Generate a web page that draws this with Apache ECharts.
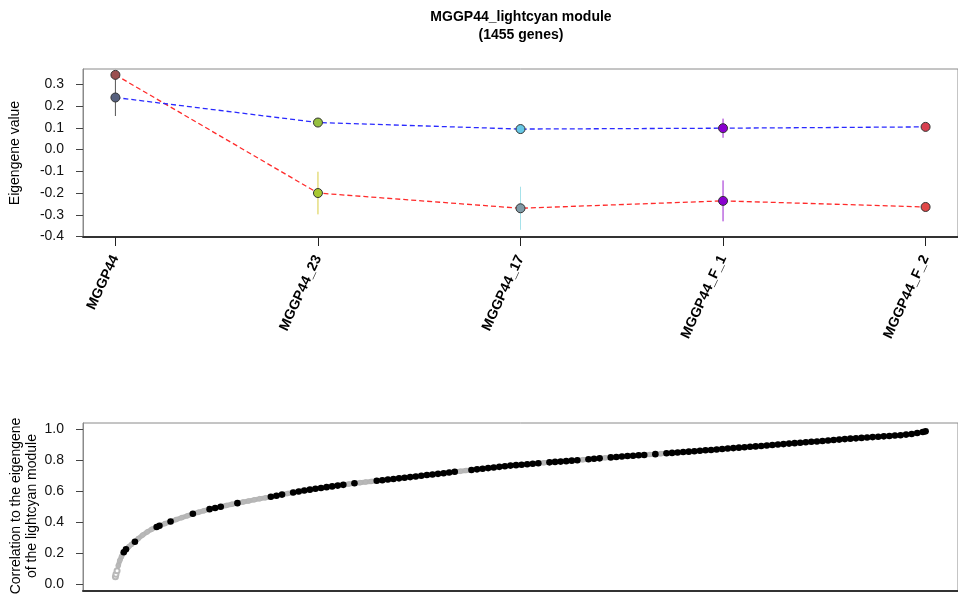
<!DOCTYPE html>
<html><head><meta charset="utf-8">
<script src="https://cdn.jsdelivr.net/npm/echarts@6/dist/echarts.min.js"></script>
<style>html,body{margin:0;padding:0;background:#fff}#c{width:958px;height:604px}</style>
</head><body><div id="c"></div>
<script>
// ---- data ----
const samples = ['MGGP44', 'MGGP44_23', 'MGGP44_17', 'MGGP44_F_1', 'MGGP44_F_2'];
const redVals = [0.343, -0.200, -0.270, -0.236, -0.264];
const redErr  = [0.010, 0.098, 0.099, 0.094, 0.015];
const blueVals = [0.239, 0.124, 0.094, 0.098, 0.104];
const blueErr  = [0.085, 0.008, 0.008, 0.044, 0.008];
const yTicksTop = [-0.4, -0.3, -0.2, -0.1, 0.0, 0.1, 0.2, 0.3];
const yTicksBottom = [0.0, 0.2, 0.4, 0.6, 0.8, 1.0];

const geneRank = [
1,2,4,6,9,12,16,20,25,30,36,42,50,58,66,75,
80,90,100,110,120,130,140,150,160,170,
180,190,200,210,220,230,240,250,260,270,
280,290,300,310,320,330,340,350,360,370,
380,390,400,410,420,430,440,450,460,470,
480,490,500,510,520,530,540,550,560,570,
580,590,600,610,620,630,640,650,660,670,
680,690,700,710,720,730,740,750,760,770,
780,790,800,810,820,830,840,850,860,870,
880,890,900,910,920,930,940,950,960,970,
980,990,1000,1010,1020,1030,1040,1050,1060,1070,
1080,1090,1100,1110,1120,1130,1140,1150,1160,1170,
1180,1190,1200,1210,1220,1230,1240,1250,1260,1270,
1280,1290,1300,1310,1320,1330,1340,1350,1360,1370,
1380,1390,1400,1410,1420,1430,1440,1450,1455];
const geneCorr = [
0.049,0.065,0.088,0.120,0.155,0.180,0.207,0.226,0.243,0.258,0.275,0.295,0.318,0.338,0.355,0.370,
0.378,0.392,0.405,0.418,0.430,0.442,0.455,0.465,0.475,0.485,
0.493,0.501,0.509,0.517,0.524,0.531,0.538,0.545,0.552,0.558,
0.565,0.572,0.579,0.586,0.593,0.599,0.605,0.611,0.617,0.622,
0.627,0.632,0.637,0.642,0.647,0.652,0.656,0.660,0.664,0.668,
0.672,0.676,0.680,0.684,0.688,0.692,0.696,0.701,0.705,0.709,
0.713,0.717,0.722,0.726,0.730,0.734,0.738,0.742,0.746,0.750,
0.754,0.758,0.762,0.766,0.769,0.772,0.775,0.778,0.781,0.784,
0.787,0.790,0.792,0.795,0.798,0.801,0.804,0.807,0.810,0.813,
0.816,0.819,0.822,0.825,0.828,0.830,0.833,0.835,0.838,0.840,
0.843,0.846,0.848,0.851,0.854,0.856,0.859,0.862,0.865,0.867,
0.870,0.873,0.876,0.879,0.882,0.885,0.888,0.890,0.893,0.896,
0.899,0.902,0.905,0.908,0.911,0.914,0.917,0.920,0.922,0.925,
0.928,0.931,0.934,0.937,0.940,0.942,0.945,0.947,0.950,0.952,
0.955,0.957,0.960,0.962,0.966,0.970,0.976,0.983,0.987];
// rank ranges of genes drawn in black
const blackRanges = [[17,22],[36,36],[70,82],[93,100],[137,143],[171,178],[185,194],[206,206],[215,221],
[274,306],[315,350],[359,368],[376,392],[401,415],[424,430],[463,472],[477,548],[554,575],[580,615],
[637,649],[651,669],[672,690],[693,760],[782,826],[832,837],[849,876],[885,906],[911,952],[964,977],
[986,1039],[1048,1103],[1105,1165],[1171,1455]];

// ---- styles ----
const FONT = "'Liberation Sans', Arial, Helvetica, sans-serif";
const redPointColors = ['#9a5050', '#a8c830', '#7f9aa6', '#8a00d0', '#e04848'];
const bluePointColors = ['#56607e', '#96c040', '#66c8e6', '#8a00d0', '#d84050'];
const barColors = ['#555555', '#d8cc40', '#a6e2ea', '#9a20d0', '#e04848'];

const xPos = samples.map((s, i) => i + 1);

function isBlack(r) {
  return blackRanges.some(([a, b]) => b >= r - 2 && a <= r + 2);
}
const allPts = geneRank.map((r, i) => [r, geneCorr[i]]);
const blackPts = allPts.filter(p => isBlack(p[0]));

function errSeries(vals, errs) {
  return {
    type: 'custom', xAxisIndex: 0, yAxisIndex: 0,
    data: xPos.map((x, i) => [x, vals[i], errs[i]]),
    renderItem: function (params, api) {
      const x = api.value(0), v = api.value(1), e = api.value(2);
      const p1 = api.coord([x, v - e]), p2 = api.coord([x, v + e]);
      return { type: 'line', shape: { x1: p1[0], y1: p1[1], x2: p2[0], y2: p2[1] },
        style: { stroke: barColors[params.dataIndex], lineWidth: 1 } };
    },
    z: 3
  };
}

const chart = echarts.init(document.getElementById('c'), null, { renderer: 'canvas' });
const axisLabelBase = { fontFamily: FONT, fontSize: 14, color: '#111' };
const txt = (text, x, y, font, rot) => ({ type: 'text', x: x, y: y, rotation: rot || 0,
  style: { text: text, align: 'center', verticalAlign: 'middle', textAlign: 'center', textVerticalAlign: 'middle', font: font, fill: '#000' } });
const option = {
  animation: false,
  backgroundColor: '#ffffff',
  graphic: [
    txt('MGGP44_lightcyan module', 521, 17, 'bold 14px ' + FONT),
    txt('(1455 genes)', 521, 35, 'bold 14px ' + FONT),
    txt('Eigengene value', 15, 153, '14px ' + FONT, Math.PI / 2),
    txt('Correlation to the eigengene', 16, 506, '14px ' + FONT, Math.PI / 2),
    txt('of the lightcyan module', 32, 506, '14px ' + FONT, Math.PI / 2)
  ],
  grid: [
    { left: 83, top: 69, right: -12, height: 168, show: true, borderColor: '#8a8a8a', borderWidth: 1, backgroundColor: 'transparent' },
    { left: 83, top: 423, right: -12, height: 168, show: true, borderColor: '#8a8a8a', borderWidth: 1, backgroundColor: 'transparent' }
  ],
  xAxis: [
    { type: 'value', gridIndex: 0, min: 0.84, max: 5.16,
      axisLine: { show: true, onZero: false, lineStyle: { color: '#333', width: 2 } },
      axisTick: { show: true, customValues: xPos, length: 9, lineStyle: { color: '#222', width: 1 } },
      axisLabel: { show: true, customValues: xPos, formatter: v => samples[Math.round(v) - 1], rotate: 65,
        margin: 19, fontFamily: FONT, fontSize: 14, fontWeight: 'bold', color: '#000' },
      splitLine: { show: false } },
    { type: 'value', gridIndex: 1, min: -57.16, max: 1513.16,
      axisLine: { show: true, onZero: false, lineStyle: { color: '#333', width: 2 } },
      axisTick: { show: false }, axisLabel: { show: false }, splitLine: { show: false } }
  ],
  yAxis: [
    { type: 'value', gridIndex: 0, min: -0.402, max: 0.370,
      axisLine: { show: true, onZero: false, lineStyle: { color: '#8a8a8a', width: 1 } },
      axisTick: { show: true, customValues: yTicksTop, length: 7, lineStyle: { color: '#444' } },
      axisLabel: Object.assign({ customValues: yTicksTop, margin: 19, formatter: v => v.toFixed(1) }, axisLabelBase),
      splitLine: { show: false } },
    { type: 'value', gridIndex: 1, min: -0.043, max: 1.041,
      axisLine: { show: true, onZero: false, lineStyle: { color: '#8a8a8a', width: 1 } },
      axisTick: { show: true, customValues: yTicksBottom, length: 7, lineStyle: { color: '#444' } },
      axisLabel: Object.assign({ customValues: yTicksBottom, margin: 19, formatter: v => v.toFixed(1) }, axisLabelBase),
      splitLine: { show: false } }
  ],
  series: [
    { type: 'line', xAxisIndex: 0, yAxisIndex: 0, data: xPos.map((x, i) => [x, redVals[i]]), symbol: 'none',
      lineStyle: { color: '#ff2a2a', width: 1.3, type: [5, 3] }, z: 2 },
    { type: 'line', xAxisIndex: 0, yAxisIndex: 0, data: xPos.map((x, i) => [x, blueVals[i]]), symbol: 'none',
      lineStyle: { color: '#2a2aff', width: 1.3, type: [5, 3] }, z: 2 },
    errSeries(redVals, redErr),
    errSeries(blueVals, blueErr),
    { type: 'scatter', xAxisIndex: 0, yAxisIndex: 0, data: xPos.map((x, i) => [x, redVals[i]]), symbolSize: 9,
      itemStyle: { color: p => redPointColors[p.dataIndex], borderColor: '#333', borderWidth: 1, opacity: 1 }, z: 4 },
    { type: 'scatter', xAxisIndex: 0, yAxisIndex: 0, data: xPos.map((x, i) => [x, blueVals[i]]), symbolSize: 9,
      itemStyle: { color: p => bluePointColors[p.dataIndex], borderColor: '#333', borderWidth: 1, opacity: 1 }, z: 4 },
    { type: 'line', xAxisIndex: 1, yAxisIndex: 1, data: allPts.filter(p => p[0] >= 6), symbol: 'none',
      lineStyle: { color: '#b8b8b8', width: 5 }, z: 1 },
    { type: 'scatter', xAxisIndex: 1, yAxisIndex: 1, data: allPts, symbolSize: 5,
      symbol: (v) => v[0] < 6 ? 'emptyCircle' : 'circle',
      itemStyle: { color: '#b8b8b8', borderColor: '#b0b0b0', borderWidth: 0.5, opacity: 1 }, z: 2 },
    { type: 'scatter', xAxisIndex: 1, yAxisIndex: 1, data: blackPts, symbolSize: 6.6,
      itemStyle: { color: '#000', opacity: 1 }, z: 3 }
  ]
};
chart.setOption(option);
</script>
</body></html>
